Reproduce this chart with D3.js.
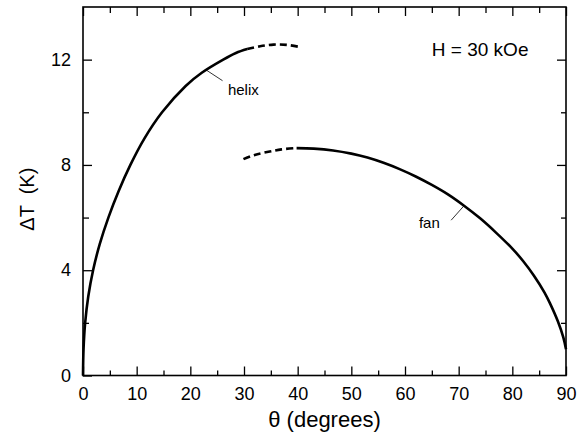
<!DOCTYPE html>
<head>
  <meta charset="utf-8">
  <script src="https://d3js.org/d3.v7.min.js"></script>
  <style>
    body { margin:0; background:#fff; }
    text { font-family: "Liberation Sans", Arial, sans-serif; fill:#000; }
  </style>
</head>

<body>
  <script>
    // helix branch (theta in degrees, dT in K)
    var helixSolid = [
      [0, 0], [0.1, 1], [0.4, 2], [0.98, 3], [1.88, 4], [3.13, 5], [4.73, 6],
      [6.63, 7], [8.83, 8], [11.43, 9], [14.73, 10], [19.13, 11], [22.13, 11.5],
      [26.13, 12], [28.5, 12.25], [30.6, 12.4]
    ];
    var helixDashed = [[30.6, 12.4], [33, 12.51], [35.5, 12.57], [38, 12.56], [40.4, 12.48]];

    // fan branch
    var fanDashed = [[29.9, 8.22], [32, 8.38], [34.8, 8.51], [37, 8.59], [39.8, 8.64]];
    var fanSolid = [
      [39.8, 8.64], [43, 8.62], [46.6, 8.55], [50, 8.43], [53, 8.28], [56, 8.08],
      [59, 7.84], [62, 7.56], [65, 7.24], [68, 6.88], [71, 6.45], [74, 5.97],
      [77, 5.42], [80, 4.82], [82, 4.35], [84, 3.8], [86, 3.15], [87, 2.75],
      [88.5, 2.05], [89.5, 1.45], [90, 1.0]
    ];

    var xMajor = [0, 10, 20, 30, 40, 50, 60, 70, 80, 90];
    var xMinor = [5, 15, 25, 35, 45, 55, 65, 75, 85];
    var yMajor = [0, 4, 8, 12];
    var yMinor = [2, 6, 10];

    var width = 587, height = 437;
    var margin = {top: 7, right: 21, bottom: 61.5, left: 83};
    var w = width - margin.left - margin.right;
    var h = height - margin.top - margin.bottom;

    var svg = d3.select("body")
      .append("svg")
      .attr("width", width)
      .attr("height", height);

    var g = svg.append("g")
      .attr("transform", "translate(" + margin.left + "," + margin.top + ")");

    var x = d3.scaleLinear().domain([0, 90]).range([0, w]);
    var y = d3.scaleLinear().domain([0, 14]).range([h, 0]);

    function drawAxis(axis, tx, ty) {
      var a = g.append("g")
        .attr("transform", "translate(" + tx + "," + ty + ")")
        .call(axis);
      a.select(".domain").remove();
      a.selectAll("line").attr("stroke", "#000").attr("stroke-width", 1.3);
      a.selectAll("text")
        .style("font-size", "18px")
        .style("font-family", "'Liberation Sans', Arial, sans-serif")
        .attr("fill", "#000");
      return a;
    }

    // ticks point inwards on all four sides
    drawAxis(d3.axisBottom(x).tickValues(xMajor).tickSize(-9).tickPadding(12).tickFormat(d3.format("d")), 0, h);
    drawAxis(d3.axisBottom(x).tickValues(xMinor).tickSize(-5).tickFormat(""), 0, h);
    drawAxis(d3.axisTop(x).tickValues(xMajor).tickSize(-9).tickFormat(""), 0, 0);
    drawAxis(d3.axisTop(x).tickValues(xMinor).tickSize(-6).tickFormat(""), 0, 0);
    drawAxis(d3.axisLeft(y).tickValues(yMajor).tickSize(-9).tickPadding(12).tickFormat(d3.format("d")), 0, 0);
    drawAxis(d3.axisLeft(y).tickValues(yMinor).tickSize(-6).tickFormat(""), 0, 0);
    drawAxis(d3.axisRight(y).tickValues(yMajor.slice(1)).tickSize(-9).tickFormat(""), w, 0);
    drawAxis(d3.axisRight(y).tickValues(yMinor).tickSize(-5).tickFormat(""), w, 0);

    g.append("rect")
      .attr("x", 0)
      .attr("y", 0)
      .attr("width", w)
      .attr("height", h)
      .attr("fill", "none")
      .attr("stroke", "#000")
      .attr("stroke-width", 1.6);

    var line = d3.line()
      .x(function (d) { return x(d[0]); })
      .y(function (d) { return y(d[1]); })
      .curve(d3.curveCatmullRom.alpha(0.5));

    function drawCurve(data, dashed) {
      g.append("path")
        .datum(data)
        .attr("d", line)
        .attr("fill", "none")
        .attr("stroke", "#000")
        .attr("stroke-width", 2.6)
        .attr("stroke-dasharray", dashed ? "7,4" : null);
    }

    drawCurve(helixSolid, false);
    drawCurve(helixDashed, true);
    drawCurve(fanDashed, true);
    drawCurve(fanSolid, false);

    // curve labels with leader lines
    g.append("line")
      .attr("x1", x(23.0)).attr("y1", y(11.6))
      .attr("x2", x(26.0)).attr("y2", y(11.2))
      .attr("stroke", "#000").attr("stroke-width", 0.8);
    g.append("text")
      .attr("x", x(27.0))
      .attr("y", y(10.65))
      .style("font-size", "15px")
      .text("helix");

    g.append("line")
      .attr("x1", x(71.0)).attr("y1", y(6.45))
      .attr("x2", x(68.6)).attr("y2", y(5.9))
      .attr("stroke", "#000").attr("stroke-width", 0.8);
    g.append("text")
      .attr("x", x(62.6))
      .attr("y", y(5.6))
      .style("font-size", "15px")
      .text("fan");

    g.append("text")
      .attr("x", x(65.0))
      .attr("y", y(12.15))
      .style("font-size", "19px")
      .text("H = 30 kOe");

    // axis titles
    svg.append("text")
      .attr("x", margin.left + x(45))
      .attr("y", 427)
      .attr("text-anchor", "middle")
      .style("font-size", "22px")
      .text("θ (degrees)");

    svg.append("text")
      .attr("transform", "translate(34," + (margin.top + y(6.7)) + ") rotate(-90)")
      .attr("text-anchor", "middle")
      .style("font-size", "20px")
      .style("white-space", "pre")
      .text("ΔT  (K)");
  </script>
</body>
